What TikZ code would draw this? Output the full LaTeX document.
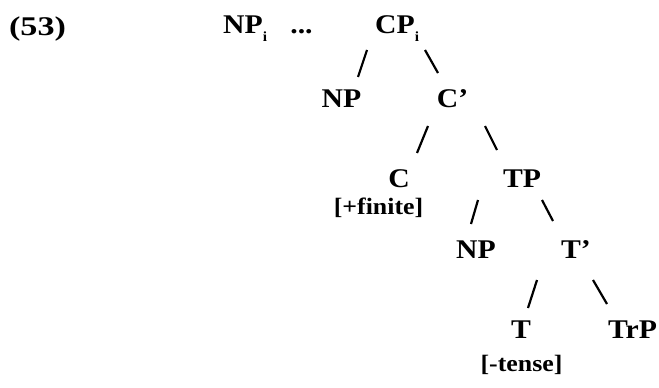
\documentclass[tikz,border=0pt]{standalone}
\usepackage{graphicx}
\usepackage{fontspec}
\setmainfont{Liberation Serif}[FakeStretch=1.1]
\newcommand{\subi}{\raisebox{-9pt}{\fontsize{14}{14}\selectfont i}}
\begin{document}
\begin{tikzpicture}[x=1pt,y=-1pt,
  lab/.style={font=\bfseries\fontsize{27}{27}\selectfont, inner sep=0pt, anchor=base},
  feat/.style={font=\bfseries\fontsize{23.5}{23.5}\selectfont, inner sep=0pt, anchor=base},
  branch/.style={line width=2.2pt}]
\useasboundingbox (0,0) rectangle (659,388);
% labels
\node[lab] (ex) at (37.5,35) {\scalebox{1.15}[1]{(53)}};
\node[lab, anchor=base west] (npi) at (223,33) {NP\subi};
\node[lab] (dots) at (301.5,33) {...};
\node[lab, anchor=base west] (cp) at (375,33) {CP\subi};
\node[lab] (np1) at (341.5,107) {NP};
\node[lab] (cbar) at (452.5,107) {C’};
\node[lab] (c) at (399,187) {C};
\node[feat] (fin) at (378.5,214) {[+finite]};
\node[lab] (tp) at (522,187) {TP};
\node[lab] (np2) at (476,258) {NP};
\node[lab] (tbar) at (576,258) {T’};
\node[lab] (t) at (521,338) {T};
\node[feat] (tense) at (521.5,371) {[-tense]};
\node[lab] (trp) at (632.5,338) {TrP};
% branch ends
\coordinate (b1a) at (367,50);  \coordinate (b1b) at (358,77);
\coordinate (b2a) at (425,50);  \coordinate (b2b) at (438,73);
\coordinate (b3a) at (428,126); \coordinate (b3b) at (417,153);
\coordinate (b4a) at (485,126); \coordinate (b4b) at (497,150);
\coordinate (b5a) at (478,200); \coordinate (b5b) at (471,224);
\coordinate (b6a) at (542,200); \coordinate (b6b) at (553,221);
\coordinate (b7a) at (537,280); \coordinate (b7b) at (528,308);
\coordinate (b8a) at (593,280); \coordinate (b8b) at (607,304);
\foreach \i in {1,...,8} \draw[branch] (b\i a) -- (b\i b);
\end{tikzpicture}
\end{document}
